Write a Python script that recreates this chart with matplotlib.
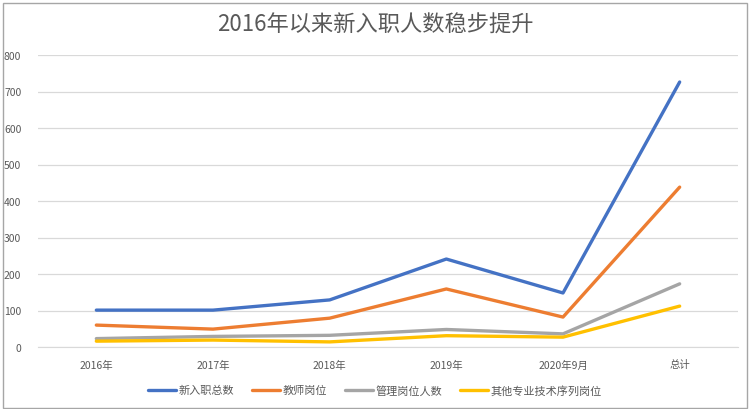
import matplotlib
matplotlib.use("Agg")
import matplotlib.pyplot as plt
from matplotlib.patches import Rectangle

plt.rcParams['font.family'] = ['Noto Sans CJK SC', 'DejaVu Sans']

categories = ["2016年", "2017年", "2018年", "2019年", "2020年9月", "总计"]
total_new = [101, 101, 129, 241, 148, 726]
teacher = [60, 49, 79, 159, 82, 438]
admin = [23, 29, 32, 48, 36, 173]
other_tech = [16, 19, 14, 31, 27, 112]
series_names = ["新入职总数", "教师岗位", "管理岗位人数", "其他专业技术序列岗位"]
title = "2016年以来新入职人数稳步提升"

colors = ["#4472C4", "#ED7D31", "#A5A5A5", "#FFC000"]
text_color = "#595959"

W, H = 750, 410
fig = plt.figure(figsize=(W / 100, H / 100), dpi=100)
ax = fig.add_axes([38 / W, 1 - 348 / H, (738 - 38) / W, (348 - 56) / H])

x = list(range(len(categories)))
for vals, c, name in zip([total_new, teacher, admin, other_tech], colors, series_names):
    ax.plot(x, vals, color=c, lw=2.4, label=name, solid_capstyle='round', zorder=3)

ax.set_xlim(-0.5, len(categories) - 0.5)
ax.set_ylim(0, 800)
ax.set_yticks(range(0, 801, 100))
ax.set_xticks(x)
ax.set_xticklabels(categories)
ax.grid(axis='y', color='#D9D9D9', lw=0.9)
ax.set_axisbelow(True)
for s in ['top', 'right', 'left']:
    ax.spines[s].set_visible(False)
ax.spines['bottom'].set_color('#D9D9D9')
ax.tick_params(axis='both', length=0, labelsize=7.5, colors=text_color)
ax.tick_params(axis='x', pad=9)
ax.tick_params(axis='y', pad=12)

fig.text(0.5, 1 - 25 / H, title, ha='center', va='center', fontsize=16, color=text_color)

leg = fig.legend(loc='center', bbox_to_anchor=(0.5, 1 - 391 / H), ncol=4, frameon=False,
                 fontsize=8, handlelength=2.5, handletextpad=0.25, columnspacing=1.6)
for t in leg.get_texts():
    t.set_color(text_color)

fig.patches.append(Rectangle((3 / W, 1 / H), (747 - 3) / W, (406 - 1) / H, transform=fig.transFigure,
                             fill=False, edgecolor='#A6A6A6', lw=1.0))

fig.savefig("out.png", dpi=100, facecolor='white')
